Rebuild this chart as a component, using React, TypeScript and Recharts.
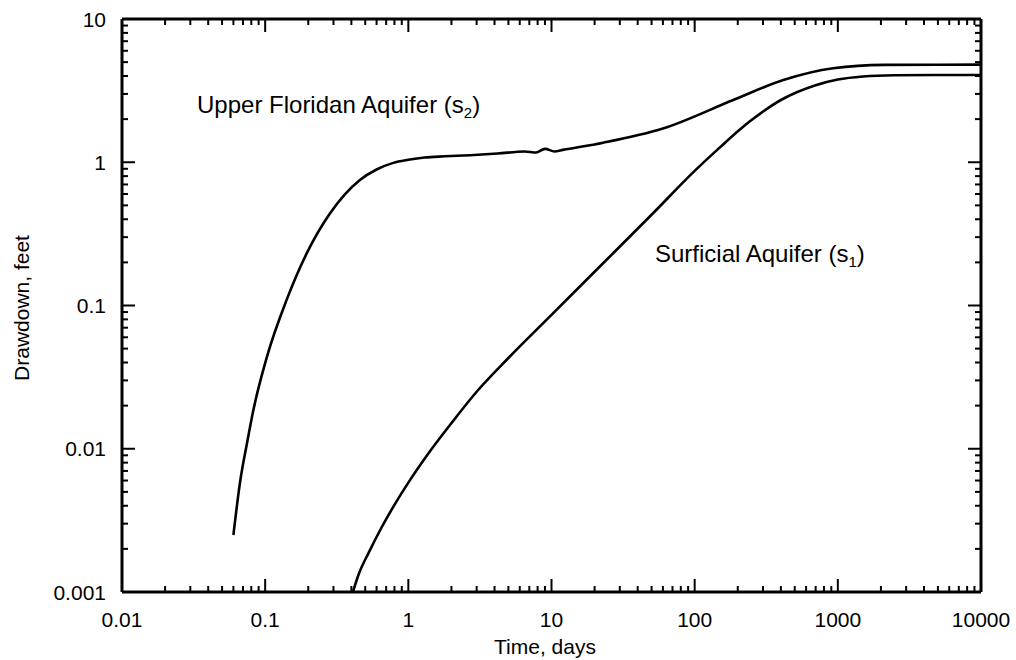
import React from "react";
import { LineChart, Line, XAxis, YAxis } from "recharts";

// Upper Floridan Aquifer (s2)
const s2Time = [0.06, 0.0667, 0.075, 0.0826, 0.103, 0.141, 0.195, 0.284, 0.459, 0.6, 0.785, 1.0, 1.3, 1.8, 2.7, 4.2, 6.5, 7.8, 9.0, 10.5, 12, 23, 60, 186, 416, 929, 2080, 10000];
const s2Drawdown = [0.0025, 0.0058, 0.0112, 0.0185, 0.044, 0.109, 0.231, 0.44, 0.752, 0.89, 0.99, 1.04, 1.08, 1.1, 1.12, 1.15, 1.19, 1.17, 1.24, 1.19, 1.22, 1.37, 1.72, 2.72, 3.75, 4.53, 4.78, 4.8];

// Surficial Aquifer (s1)
const s1Time = [0.41, 0.45, 0.53, 0.65, 0.8, 1.0, 1.4, 2, 3, 5, 10, 20, 50, 100, 150, 243, 400, 700, 1000, 1500, 2500, 5000, 10000];
const s1Drawdown = [0.001, 0.00133, 0.00189, 0.00282, 0.00406, 0.0058, 0.00945, 0.0151, 0.025, 0.043, 0.086, 0.172, 0.43, 0.87, 1.27, 1.93, 2.72, 3.45, 3.78, 3.97, 4.05, 4.07, 4.07];

const xMajor = [0.01, 0.1, 1, 10, 100, 1000, 10000];
const xTickLabels = ["0.01", "0.1", "1", "10", "100", "1000", "10000"];
const yMajor = [0.001, 0.01, 0.1, 1, 10];
const yTickLabels = ["0.001", "0.01", "0.1", "1", "10"];

const FONT = '"Liberation Sans", Arial, Helvetica, sans-serif';
const MAJOR_LEN = 13;
const MINOR_LEN = 6;

// plot frame (page pixels)
const PLOT_LEFT = 122;
const PLOT_TOP = 19;
const PLOT_RIGHT = 981;
const PLOT_BOTTOM = 592;

const withMinors = (major: number[]) => {
  const out: number[] = [];
  major.forEach((d, i) => {
    out.push(d);
    if (i < major.length - 1) for (let k = 2; k <= 9; k++) out.push(+(d * k).toPrecision(6));
  });
  return out;
};

const xTicks = withMinors(xMajor);
const yTicks = withMinors(yMajor);

const majorIndex = (v: number, major: number[]) =>
  major.findIndex((m) => Math.abs(Math.log10(v) - Math.log10(m)) < 1e-6);

const s2Data = s2Time.map((t, i) => ({ t, s: s2Drawdown[i] }));
const s1Data = s1Time.map((t, i) => ({ t, s: s1Drawdown[i] }));

const BottomTick = (props: any) => {
  const { x, payload } = props;
  const idx = majorIndex(payload.value, xMajor);
  const len = idx >= 0 ? MAJOR_LEN : MINOR_LEN;
  const y = PLOT_BOTTOM;
  return (
    <g>
      <line x1={x} y1={y} x2={x} y2={y - len} stroke="#000" strokeWidth={2} />
      {idx >= 0 && (
        <text x={x} y={y + 35} textAnchor="middle" fontSize={21} fontFamily={FONT} fill="#000">
          {xTickLabels[idx]}
        </text>
      )}
    </g>
  );
};

const TopTick = (props: any) => {
  const { x, payload } = props;
  const len = majorIndex(payload.value, xMajor) >= 0 ? MAJOR_LEN : MINOR_LEN;
  return <line x1={x} y1={PLOT_TOP} x2={x} y2={PLOT_TOP + len} stroke="#000" strokeWidth={2} />;
};

const LeftTick = (props: any) => {
  const { y, payload } = props;
  const idx = majorIndex(payload.value, yMajor);
  const len = idx >= 0 ? MAJOR_LEN : MINOR_LEN;
  const x = PLOT_LEFT;
  return (
    <g>
      <line x1={x} y1={y} x2={x + len} y2={y} stroke="#000" strokeWidth={2} />
      {idx >= 0 && (
        <text x={x - 16} y={y} dy="0.36em" textAnchor="end" fontSize={21} fontFamily={FONT} fill="#000">
          {yTickLabels[idx]}
        </text>
      )}
    </g>
  );
};

const RightTick = (props: any) => {
  const { y, payload } = props;
  const len = majorIndex(payload.value, yMajor) >= 0 ? MAJOR_LEN : MINOR_LEN;
  return <line x1={PLOT_RIGHT} y1={y} x2={PLOT_RIGHT - len} y2={y} stroke="#000" strokeWidth={2} />;
};

const axisLine = { stroke: "#000", strokeWidth: 3 };

const textStyle: React.CSSProperties = {
  position: "absolute",
  fontFamily: FONT,
  color: "#000",
  whiteSpace: "nowrap",
  lineHeight: "24px",
};

const subStyle: React.CSSProperties = { fontSize: 15, verticalAlign: "-5px", lineHeight: 0 };

export default function App() {
  return (
    <div style={{ position: "absolute", left: 0, top: 0, width: 1016, height: 660, background: "#fff" }}>
      <LineChart
        width={1016}
        height={660}
        margin={{ top: PLOT_TOP - 1, right: 1016 - PLOT_RIGHT - 1, bottom: 0, left: 0 }}
      >
        <XAxis
          dataKey="t"
          type="number"
          scale="log"
          domain={[0.01, 10000]}
          allowDataOverflow
          ticks={xTicks}
          interval={0}
          height={660 - PLOT_BOTTOM}
          tickLine={false}
          axisLine={axisLine}
          tick={<BottomTick />}
        />
        <XAxis
          xAxisId="top"
          orientation="top"
          dataKey="t"
          type="number"
          scale="log"
          domain={[0.01, 10000]}
          allowDataOverflow
          ticks={xTicks}
          interval={0}
          height={1}
          tickLine={false}
          axisLine={axisLine}
          tick={<TopTick />}
        />
        <YAxis
          type="number"
          scale="log"
          domain={[0.001, 10]}
          allowDataOverflow
          ticks={yTicks}
          interval={0}
          width={PLOT_LEFT}
          tickLine={false}
          axisLine={axisLine}
          tick={<LeftTick />}
        />
        <YAxis
          yAxisId="right"
          orientation="right"
          type="number"
          scale="log"
          domain={[0.001, 10]}
          allowDataOverflow
          ticks={yTicks}
          interval={0}
          width={1}
          tickLine={false}
          axisLine={axisLine}
          tick={<RightTick />}
        />
        <Line data={s2Data} dataKey="s" type="monotone" stroke="#000" strokeWidth={2.6} dot={false} isAnimationActive={false} />
        <Line data={s1Data} dataKey="s" type="monotone" stroke="#000" strokeWidth={2.6} dot={false} isAnimationActive={false} />
      </LineChart>

      <div style={{ ...textStyle, left: 197, top: 93, fontSize: 24 }}>
        Upper Floridan Aquifer (s<sub style={subStyle}>2</sub>)
      </div>
      <div style={{ ...textStyle, left: 655, top: 242, fontSize: 24 }}>
        Surficial Aquifer (s<sub style={subStyle}>1</sub>)
      </div>
      <div style={{ ...textStyle, left: 545, top: 635, fontSize: 21, transform: "translateX(-50%)" }}>
        Time, days
      </div>
      <div
        style={{
          ...textStyle,
          left: 22,
          top: 308,
          fontSize: 21,
          transform: "translate(-50%, -50%) rotate(-90deg)",
        }}
      >
        Drawdown, feet
      </div>
    </div>
  );
}
